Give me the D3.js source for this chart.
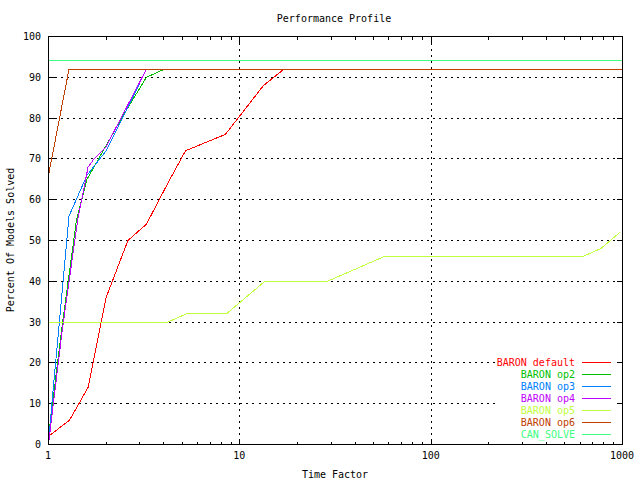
<!DOCTYPE html>
<html>
<head>
<meta charset="utf-8">
<script src="https://cdn.jsdelivr.net/npm/d3@7"></script>
<style>
  body { margin: 0; background: #fff; }
  text { font-family: "DejaVu Sans Mono", monospace; font-size: 10px; }
</style>
</head>
<body>
<div class="chart"></div>
<script>
// chart values
let names = ["BARON default", "BARON op2", "BARON op3", "BARON op4", "BARON op5", "BARON op6", "CAN_SOLVE"]
let colors = ["#ff0000", "#00c000", "#0080ff", "#c000ff", "#c0ff40", "#c04000", "#40ff80"]

let baronDefault = [[1, 2], [1.29, 6], [1.61, 14], [2.0, 36], [2.6, 50], [3.25, 54], [4.2, 64], [5.2, 72], [8.4, 76], [13.3, 88], [17, 92], [1000, 92]]
let baronOp2 = [[1, 2], [1.05, 10], [1.17, 28], [1.4, 55], [1.59, 65], [2.48, 81], [3.25, 90], [4.04, 92], [1000, 92]]
let baronOp3 = [[1, 0], [1.05, 12], [1.13, 28], [1.28, 56], [1.59, 66], [2.0, 72], [2.5, 81], [3.25, 92], [1000, 92]]
let baronOp4 = [[1, 0], [1.06, 10], [1.18, 28], [1.42, 55], [1.61, 68], [1.73, 70], [2.0, 73], [3.25, 92], [1000, 92]]
let baronOp5 = [[1, 30], [4.2, 30], [5.25, 32], [8.5, 32], [13.5, 40], [28.7, 40], [56.4, 46], [616, 46], [769, 48], [970, 52]]
let baronOp6 = [[1, 66], [1.28, 92], [1000, 92]]
let canSolve = [[1, 94], [1000, 94]]
let series = [baronDefault, baronOp2, baronOp3, baronOp4, baronOp5, baronOp6, canSolve]

let yTicks = [0, 10, 20, 30, 40, 50, 60, 70, 80, 90, 100]
let xTicks = [1, 10, 100, 1000]

let w = 640
let h = 480
let pLeft = 48, pRight = 622, pTop = 36, pBottom = 444

let svg = d3.select(".chart")
            .append("svg")
            .attr("width", w)
            .attr("height", h)

let x = d3.scaleLog().domain([1, 1000]).range([pLeft, pRight])
let y = d3.scaleLinear().domain([0, 100]).range([pBottom, pTop])

let g = svg.append("g").attr("transform", "translate(0.5,0.5)")

// dotted grid
g.selectAll(".hgrid")
  .data(yTicks.filter(d => d > 0 && d < 100))
  .enter().append("line")
  .attr("x1", pLeft).attr("x2", pRight)
  .attr("y1", d => Math.round(y(d))).attr("y2", d => Math.round(y(d)))
  .attr("stroke", "#000").attr("stroke-dasharray", "2,4")
  .attr("shape-rendering", "crispEdges")
g.selectAll(".vgrid")
  .data(xTicks.filter(d => d > 1 && d < 1000))
  .enter().append("line")
  .attr("y1", pTop).attr("y2", pBottom)
  .attr("x1", d => Math.round(x(d))).attr("x2", d => Math.round(x(d)))
  .attr("stroke", "#000").attr("stroke-dasharray", "2,4")
  .attr("shape-rendering", "crispEdges")

// ticks on all four sides, pointing inward
let minor = []
for (let k = 1; k < 1000; k *= 10)
  for (let m = 2; m < 10; m++) minor.push(k * m)

let tickG = g.append("g").attr("stroke", "#000").attr("shape-rendering", "crispEdges")
minor.forEach(function(d) {
  let px = Math.round(x(d))
  tickG.append("line").attr("x1", px).attr("x2", px).attr("y1", pBottom).attr("y2", pBottom - 3)
  tickG.append("line").attr("x1", px).attr("x2", px).attr("y1", pTop).attr("y2", pTop + 3)
})
xTicks.forEach(function(d) {
  let px = Math.round(x(d))
  tickG.append("line").attr("x1", px).attr("x2", px).attr("y1", pBottom).attr("y2", pBottom - 6)
  tickG.append("line").attr("x1", px).attr("x2", px).attr("y1", pTop).attr("y2", pTop + 6)
})
yTicks.forEach(function(d) {
  let py = Math.round(y(d))
  tickG.append("line").attr("x1", pLeft).attr("x2", pLeft + 6).attr("y1", py).attr("y2", py)
  tickG.append("line").attr("x1", pRight).attr("x2", pRight - 6).attr("y1", py).attr("y2", py)
})

// tick labels
svg.selectAll(".ylab")
  .data(yTicks)
  .enter().append("text")
  .attr("x", 41).attr("y", d => y(d) + 4)
  .attr("text-anchor", "end")
  .text(d => d)
svg.selectAll(".xlab")
  .data(xTicks)
  .enter().append("text")
  .attr("x", d => x(d)).attr("y", 459)
  .attr("text-anchor", "middle")
  .text(d => d)

// the curves
let line = d3.line().x(d => x(d[0])).y(d => y(d[1]))
g.selectAll(".curve")
  .data(series)
  .enter().append("path")
  .attr("d", line)
  .attr("fill", "none")
  .attr("stroke", (d, i) => colors[i])
  .attr("stroke-width", 1)
  .attr("shape-rendering", "crispEdges")

// frame
g.append("rect")
  .attr("x", pLeft).attr("y", pTop)
  .attr("width", pRight - pLeft).attr("height", pBottom - pTop)
  .attr("fill", "none").attr("stroke", "#000")
  .attr("shape-rendering", "crispEdges")

// key, opaque so the grid stops behind it
let key = svg.append("g")
key.append("rect")
  .attr("x", 496).attr("y", 355).attr("width", 120).attr("height", 86)
  .attr("fill", "#fff")
names.forEach(function(n, i) {
  let ky = 362 + i * 12
  key.append("text")
    .attr("x", 575).attr("y", ky + 3.6)
    .attr("text-anchor", "end")
    .attr("fill", colors[i])
    .text(n)
  key.append("line")
    .attr("x1", 582).attr("x2", 611)
    .attr("y1", ky + 0.5).attr("y2", ky + 0.5)
    .attr("stroke", colors[i])
    .attr("shape-rendering", "crispEdges")
})

// titles
svg.append("text").attr("x", 334).attr("y", 22).attr("text-anchor", "middle").text("Performance Profile")
svg.append("text").attr("x", 335).attr("y", 478).attr("text-anchor", "middle").text("Time Factor")
svg.append("text")
  .attr("transform", "translate(14,240) rotate(-90)")
  .attr("text-anchor", "middle")
  .text("Percent Of Models Solved")
</script>
</body>
</html>
